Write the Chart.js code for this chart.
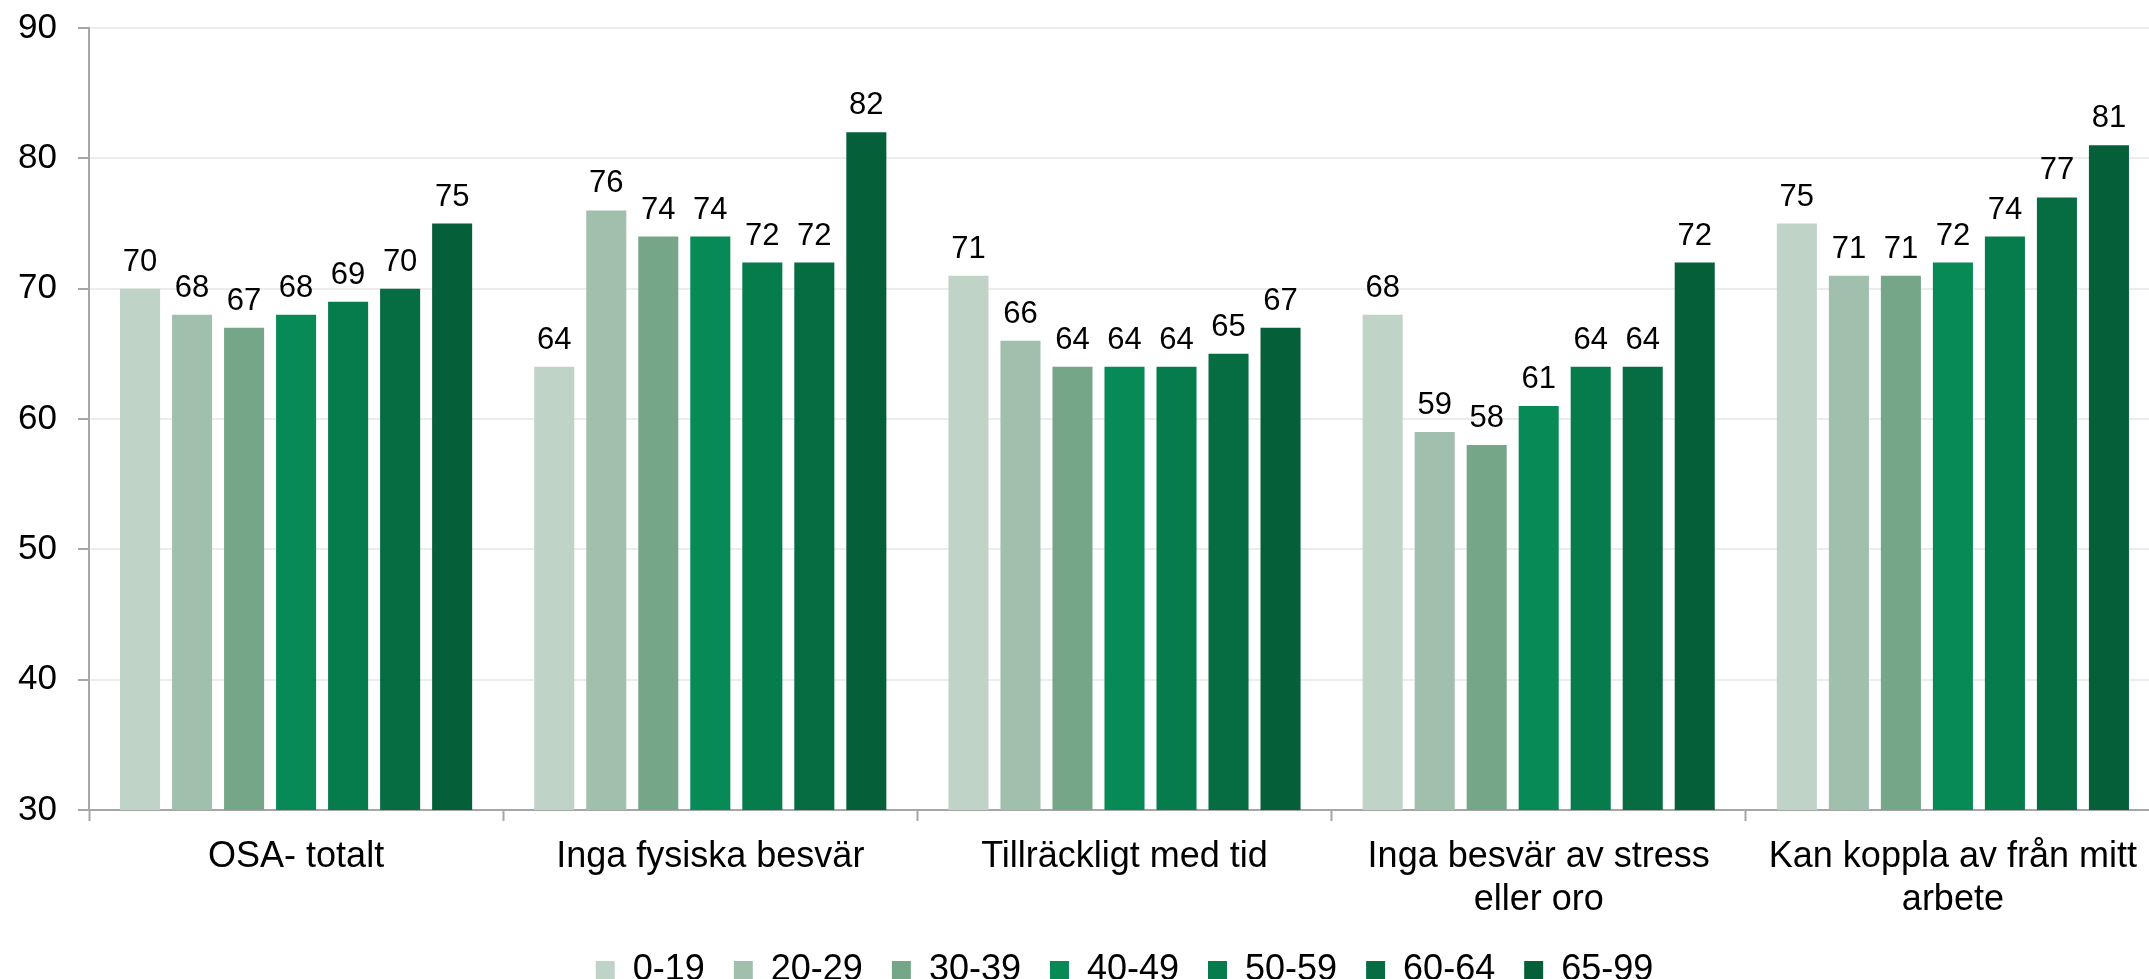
<!DOCTYPE html>
<html>
<head>
<meta charset="utf-8">
<script src="https://cdn.jsdelivr.net/npm/chart.js@4.4.1/dist/chart.umd.min.js"></script>
<style>
  html, body { margin: 0; padding: 0; background: #fff; overflow: hidden; }
  #wrap { width: 2160px; height: 998px; position: relative; }
</style>
</head>
<body>
<div id="wrap"><canvas id="chart"></canvas></div>
<script>
const categories = [
  'OSA- totalt',
  'Inga fysiska besvär',
  'Tillräckligt med tid',
  ['Inga besvär av stress', 'eller oro'],
  ['Kan koppla av från mitt', 'arbete'],
];

const ageGroups = ['0-19', '20-29', '30-39', '40-49', '50-59', '60-64', '65-99'];
const groupColors = ['#c0d3c7', '#a1bfad', '#75a688', '#078a55', '#067b4c', '#066d43', '#05603a'];

// one array per age group, values per category
const age0to19 = [70, 64, 71, 68, 75];
const age20to29 = [68, 76, 66, 59, 71];
const age30to39 = [67, 74, 64, 58, 71];
const age40to49 = [68, 74, 64, 61, 72];
const age50to59 = [69, 72, 64, 64, 74];
const age60to64 = [70, 72, 65, 64, 77];
const age65to99 = [75, 82, 67, 72, 81];
const seriesValues = [age0to19, age20to29, age30to39, age40to49, age50to59, age60to64, age65to99];

const yMin = 30;
const yMax = 90;
const yStep = 10;

const FONT = 'Liberation Sans, Arial, sans-serif';

const valueLabels = {
  id: 'valueLabels',
  afterDatasetsDraw(chart) {
    const ctx = chart.ctx;
    ctx.save();
    ctx.font = '31px ' + FONT;
    ctx.fillStyle = '#000';
    ctx.textAlign = 'center';
    ctx.textBaseline = 'alphabetic';
    chart.data.datasets.forEach((ds, i) => {
      const meta = chart.getDatasetMeta(i);
      meta.data.forEach((bar, j) => {
        ctx.fillText(String(ds.data[j]), bar.x, bar.y - 18);
      });
    });
    ctx.restore();
  }
};

new Chart(document.getElementById('chart'), {
  type: 'bar',
  data: {
    labels: categories,
    datasets: ageGroups.map((name, i) => ({
      label: name,
      data: seriesValues[i],
      backgroundColor: groupColors[i],
      borderWidth: 0,
      categoryPercentage: 0.879,
      barPercentage: 0.77,
    })),
  },
  options: {
    responsive: true,
    maintainAspectRatio: false,
    animation: false,
    layout: { padding: 0 },
    plugins: {
      legend: {
        position: 'bottom',
        fullSize: false,
        labels: {
          boxWidth: 19,
          boxHeight: 18,
          padding: 29,
          color: '#000',
          font: { family: FONT, size: 36 },
        },
      },
      tooltip: { enabled: false },
    },
    scales: {
      x: {
        grid: {
          drawOnChartArea: false,
          drawTicks: true,
          tickLength: 11,
          tickColor: '#a6a6a6',
          tickWidth: 2,
        },
        border: { color: '#a6a6a6', width: 2 },
        ticks: {
          color: '#000',
          padding: 14,
          maxRotation: 0,
          autoSkip: false,
          font: { family: FONT, size: 36, lineHeight: 1.2 },
        },
        afterFit(scale) { scale.height = 113; },
      },
      y: {
        min: yMin,
        max: yMax,
        grid: {
          color: '#ececec',
          lineWidth: 2,
          tickLength: 11,
          tickColor: '#a6a6a6',
        },
        border: { color: '#a6a6a6', width: 2 },
        ticks: {
          stepSize: yStep,
          color: '#000',
          padding: 21,
          font: { family: FONT, size: 35 },
        },
        afterFit(scale) {
          scale.width = 89;
          scale.paddingTop = 28;
        },
      },
    },
  },
  plugins: [valueLabels],
});
</script>
</body>
</html>
